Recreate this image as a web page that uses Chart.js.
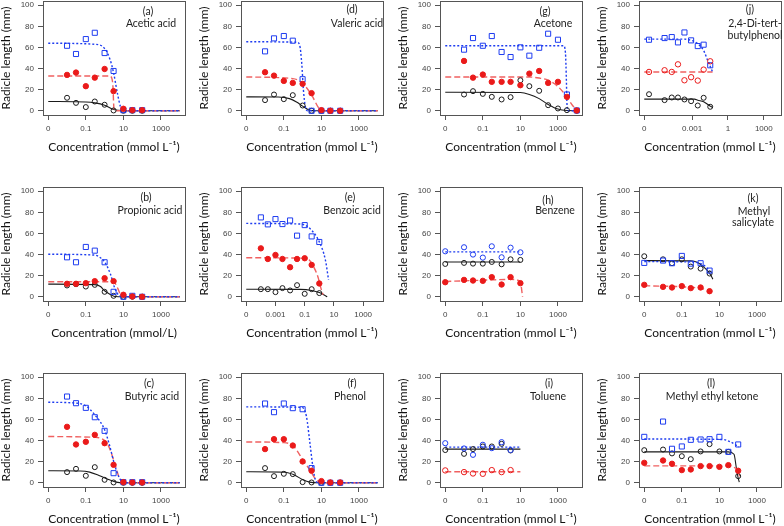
<!DOCTYPE html>
<html>
<head>
<meta charset="utf-8">
<script src="https://cdn.jsdelivr.net/npm/chart.js@4/dist/chart.umd.min.js"></script>
<style>
html, body { margin: 0; padding: 0; background: #fff; }
body { width: 784px; height: 526px; position: relative; overflow: hidden; }
canvas { position: absolute; }
</style>
</head>
<body>
<script>
// (a) Acetic acid
const aConc = [0.01, 0.03, 0.1, 0.3, 1, 3, 10, 30, 100];
const aBlue = [61.6, 53.8, 67.9, 73.9, 54.7, 37.7, 0.6, 0.6, 0.6];
const aRed = [34, 36.2, 23.3, 31.4, 39.6, 18.6, 1.9, 0.6, 0.6];
const aBlack = [12.3, 7.5, 3.5, 8.8, 5.7, 0.3, 0, 0, 0];
const aBlueFit = [[0.001, 64], [0.3, 63], [1, 59], [2, 48], [3, 36], [5, 15], [7, 4], [10, 0.5], [15, 0], [10000, 0]];
const aRedFit = [[0.001, 33], [1.8, 33], [2.4, 31], [2.8, 22], [3, 8], [3.2, 0.5], [4, 0], [10000, 0]];
const aBlackFit = [[0.001, 8.8], [0.1, 8.3], [0.3, 7.5], [1, 5.3], [3, 1.3], [10, 0.1], [30, 0], [10000, 0]];

// (d) Valeric acid
const dConc = [0.01, 0.03, 0.1, 0.3, 1, 3, 10, 30, 100];
const dBlue = [56.3, 68.6, 70.8, 66.4, 29.9, 0, 0, 0, 0];
const dRed = [36.5, 33.3, 28.3, 26.4, 25.5, 16.7, 0.6, 0, 0];
const dBlack = [10.1, 15.4, 11, 14.8, 5, 0, 0, 0, 0];
const dBlueFit = [[0.001, 65.4], [0.5, 65], [0.7, 62], [0.9, 45], [1.1, 20], [1.4, 4], [1.8, 0], [10000, 0]];
const dRedFit = [[0.001, 32], [0.3, 30.5], [1, 26], [3, 15], [7, 3], [10, 0.5], [15, 0], [10000, 0]];
const dBlackFit = [[0.001, 13.2], [0.05, 13], [0.2, 11.5], [0.5, 8], [1, 4.4], [2.2, 0.8], [5, 0], [10000, 0]];

// (g) Acetone
const gConc = [0.01, 0.03, 0.1, 0.3, 1, 3, 10, 30, 100, 300, 1000, 3000, 10000];
const gBlue = [57.9, 68.9, 61.6, 70.8, 55.7, 50.9, 60.1, 52.2, 59.7, 73, 67.3, 15.4, 0.3];
const gRed = [47.2, 31.4, 34.3, 27.4, 27.4, 27.4, 24.2, 35.2, 37.7, 26.4, 27.4, 13.2, 0.3];
const gBlack = [15.4, 18.6, 16, 13.2, 10.7, 12.9, 28.9, 23.3, 18.9, 5.3, 2.2, 0.6, 0];
const gBlueFit = [[0.001, 61.6], [2000, 61.6], [2500, 55], [2800, 30], [3000, 8], [3300, 0], [10000, 0]];
const gRedFit = [[0.001, 32], [30, 32], [100, 31], [300, 29], [1000, 23], [3000, 13], [6000, 5], [10000, 0.6]];
const gBlackFit = [[0.001, 17.6], [10, 17.3], [30, 15.5], [100, 11.5], [300, 6], [1000, 1.6], [3000, 0.2], [10000, 0]];

// (j) 2,4-Di-tert-butylphenol
const jConc = [2.5e-7, 5e-6, 2e-5, 6.6e-5, 2.3e-4, 8.3e-4, 3e-3, 9.3e-3, 0.033];
const jBlue = [67.3, 68.9, 69.8, 64.8, 74.2, 66.7, 61.3, 62.6, 43.1];
const jRed = [36.8, 38.4, 36.8, 44, 28.9, 31.8, 28.6, 39, 46.9];
const jBlack = [15.7, 10.1, 12.6, 12.6, 10.7, 9.1, 5, 12.3, 3.8];
const jBlueFit = [[1e-7, 67.9], [2.3e-4, 67.9], [8.3e-4, 66.7], [3e-3, 63.5], [9.3e-3, 57], [0.02, 47.8], [0.052, 36.8]];
const jRedFit = [[1e-7, 36.8], [0.052, 36.8]];
const jBlackFit = [[1e-7, 11], [1.6e-3, 11], [3e-3, 10], [9.3e-3, 8.5], [0.033, 4.4], [0.052, 3.2]];

// (b) Propionic acid
const bConc = [0.01, 0.03, 0.1, 0.3, 1, 3, 10, 30, 100];
const bBlue = [37.4, 32.7, 47.2, 43.7, 32.7, 4.7, 0, 0.9, 0];
const bRed = [12.3, 12.3, 12.9, 14.8, 17.6, 14.8, 1.9, 0.3, 0];
const bBlack = [10.7, 11.9, 9.7, 11.3, 4.7, 0.9, 0, 0, 0];
const bBlueFit = [[0.001, 40.3], [0.3, 39.5], [0.6, 37], [1, 33], [2, 22], [3.5, 8], [6, 1], [10, 0], [10000, 0]];
const bRedFit = [[0.001, 14.2], [2, 14.2], [3.5, 13], [5, 8], [7, 2], [10, 0], [10000, 0]];
const bBlackFit = [[0.001, 12], [0.3, 11.5], [0.6, 9.7], [1, 5.7], [2, 2.2], [3.5, 0.3], [10, 0], [10000, 0]];

// (e) Benzoic acid
const eConc = [1e-4, 3e-4, 1e-3, 3e-3, 0.01, 0.03, 0.1, 0.3, 1];
const eBlue = [75.2, 68.6, 73.6, 68.9, 72.3, 57.9, 67.9, 57.2, 51.9];
const eRed = [45.9, 35.8, 39.6, 35.8, 28, 35.8, 36.5, 30.2, 12.6];
const eBlack = [7.2, 7.2, 4.4, 8.2, 6, 11, 2.8, 7.2, 3.5];
const eBlueFit = [[1e-5, 69.5], [0.03, 69], [0.1, 68], [0.3, 63], [1, 52], [2.6, 35], [4.3, 16]];
const eRedFit = [[1e-5, 37], [0.1, 36.5], [0.2, 35], [0.4, 28.6], [0.8, 19], [1.3, 8], [1.8, 2]];
const eBlackFit = [[1e-5, 7.2], [0.05, 7], [0.3, 6], [1, 4], [2.6, 1], [3.5, 0]];

// (h) Benzene
const hConc = [0.001, 0.01, 0.03, 0.1, 0.3, 1, 3, 10];
const hBlue = [43.1, 46.9, 40, 37.1, 47.8, 37.4, 46.5, 42.1];
const hRed = [13.8, 16, 15.4, 15.1, 18.6, 11.6, 18.6, 12.9];
const hBlack = [31.1, 32.1, 31.4, 31.4, 33, 30.8, 35.5, 34.9];
const hBlueFit = [[0.001, 42.5], [10, 42.5]];
const hRedFit = [[0.001, 14.5], [0.3, 16], [3, 16.5], [9, 15], [11, 10], [13, 0]];
const hBlackFit = [[0.001, 33], [10, 33]];

// (k) Methyl salicylate
const kConc = [0.001, 0.01, 0.03, 0.1, 0.3, 1, 3];
const kBlue = [32.1, 34.3, 31.8, 38.7, 31.4, 31.8, 24.8];
const kRed = [11.3, 9.4, 8.8, 10.1, 8.2, 8.8, 5.3];
const kBlack = [38.4, 35.5, 31.8, 35.5, 28.6, 26.7, 22];
const kBlueFit = [[0.001, 33.3], [0.3, 33], [1, 31.5], [2, 28], [4, 22]];
const kRedFit = [[0.001, 10.5], [0.3, 9], [1, 8], [3, 6]];
const kBlackFit = [[0.001, 34.3], [0.3, 34], [0.65, 32.7], [1.4, 28.6], [3, 22.3], [4.5, 16.7]];

// (c) Butyric acid
const cConc = [0.01, 0.03, 0.1, 0.3, 1, 3, 10, 30, 100];
const cBlue = [81.7, 75.4, 71, 62.1, 49.2, 9.1, 0.6, 0.6, 0.6];
const cRed = [53, 36.3, 38.8, 45.4, 37.5, 17, 0.6, 0.3, 0.3];
const cBlack = [10.1, 13.2, 6.6, 14.8, 2.8, 0.3, 0, 0, 0];
const cBlueFit = [[0.001, 76.3], [0.03, 75.5], [0.1, 72.9], [0.3, 64.4], [1, 50.2], [1.8, 36], [3.4, 17], [6.2, 4.4], [11, 0.3], [20, 0], [10000, 0]];
const cRedFit = [[0.001, 43.8], [0.3, 43], [1, 40], [1.8, 33], [3.4, 18.6], [6.2, 4.4], [11, 0.5], [20, 0], [10000, 0]];
const cBlackFit = [[0.001, 11.4], [0.05, 11.2], [0.16, 10.1], [0.5, 6.9], [1.8, 2.8], [4.2, 0.6], [10, 0], [10000, 0]];

// (f) Phenol
const fConc = [0.01, 0.03, 0.1, 0.3, 1, 3, 10, 30, 100];
const fBlue = [75.1, 66.9, 75.1, 70.7, 69.7, 13.9, 0, 0, 0];
const fRed = [31.9, 41.3, 41.3, 35.3, 20.2, 11.4, 1.6, 0.3, 0.3];
const fBlack = [13.9, 6.3, 8.5, 8.2, 0.6, 0.3, 0, 0, 0];
const fBlueFit = [[0.001, 71.9], [0.9, 71.5], [1.6, 62.8], [2.4, 39], [3.6, 13.9], [4.8, 2.8], [6.7, 0], [10000, 0]];
const fRedFit = [[0.001, 38.7], [0.1, 38], [0.34, 34.4], [1, 22], [2.4, 12.3], [4.5, 4.4], [8.2, 0.6], [15, 0], [10000, 0]];
const fBlackFit = [[0.001, 10.4], [0.12, 10], [0.34, 7.6], [1.06, 2.8], [2.4, 0.6], [6, 0], [10000, 0]];

// (i) Toluene
const iConc = [0.001, 0.01, 0.03, 0.1, 0.3, 1, 3];
const iBlue = [37.5, 32.5, 26.5, 36, 32.8, 38.5, 31];
const iRed = [11.7, 10.1, 8.8, 8.5, 12, 10.1, 12];
const iBlack = [31, 27.4, 31.9, 34.4, 34.4, 36.9, 30.6];
const iBlueFit = [[0.001, 33.8], [10, 33.8]];
const iRedFit = [[0.001, 10.4], [10, 10.4]];
const iBlackFit = [[0.001, 31.9], [10, 31.9]];

// (l) Methyl ethyl ketone
const lConc = [0.001, 0.01, 0.03, 0.1, 0.3, 1, 3, 10, 30, 100];
const lBlue = [43.5, 58, 32.2, 34.4, 40.7, 41, 41.3, 43.5, 29.3, 36.3];
const lRed = [18.9, 21.1, 18, 12, 12.6, 15.8, 15.8, 15.1, 16.7, 11.4];
const lBlack = [30.9, 31.5, 27.8, 25.2, 22.4, 29.7, 36.6, 29.7, 29.3, 6.3];
const lBlueFit = [[0.001, 41.5], [16, 41], [36, 39], [110, 34]];
const lRedFit = [[0.001, 16], [30, 16], [60, 14.5], [100, 11.4], [120, 6]];
const lBlackFit = [[0.001, 29.3], [30, 29.3], [60, 27], [80, 14], [100, 4.4], [115, 0.6]];

// x axis variants (tick values and their printed labels)
const stdTicks = [0.001, 0.1, 10, 1000];
const stdLabels = ['0', '0.1', '10', '1000'];
const eTicks = [1e-5, 0.001, 0.1, 10, 1000];
const eLabels = ['0', '0.001', '0.1', '10', '1000'];
const jTicks = [1e-7, 0.001, 1, 1000];
const jLabels = ['0', '0.001', '1', '1000'];
const yTicks = [0, 20, 40, 60, 80, 100];

const AX_STD = { min: 5.25e-4, max: 19055, ticks: stdTicks, labels: stdLabels };
const AX_E = { min: 4.37e-6, max: 22909, ticks: eTicks, labels: eLabels };
const AX_J = { min: 3.63e-8, max: 27542, ticks: jTicks, labels: jLabels };

const XT = 'Concentration (mmol L\u207B\u00B9)';

const panels = [
  { col: 0, row: 0, ax: AX_STD, conc: aConc, blue: aBlue, red: aRed, black: aBlack, bf: aBlueFit, rf: aRedFit, kf: aBlackFit,
    notes: [['(a)', 105, 11], ['Acetic acid', 108, 23]] },
  { col: 1, row: 0, ax: AX_STD, conc: dConc, blue: dBlue, red: dRed, black: dBlack, bf: dBlueFit, rf: dRedFit, kf: dBlackFit,
    notes: [['(d)', 111, 9], ['Valeric acid', 116, 23]] },
  { col: 2, row: 0, ax: AX_STD, conc: gConc, blue: gBlue, red: gRed, black: gBlack, bf: gBlueFit, rf: gRedFit, kf: gBlackFit,
    notes: [['(g)', 105, 11], ['Acetone', 113, 23]] },
  { col: 3, row: 0, ax: AX_J, conc: jConc, blue: jBlue, red: jRed, black: jBlack, bf: jBlueFit, rf: jRedFit, kf: jBlackFit,
    redOpen: true, notes: [['(j)', 111, 9], ['2,4-Di-tert-', 116, 23], ['butylphenol', 116, 35]] },
  { col: 0, row: 1, ax: AX_STD, conc: bConc, blue: bBlue, red: bRed, black: bBlack, bf: bBlueFit, rf: bRedFit, kf: bBlackFit,
    xTitle: 'Concentration (mmol/L)', notes: [['(b)', 103, 11], ['Propionic acid', 107, 24]] },
  { col: 1, row: 1, ax: AX_E, conc: eConc, blue: eBlue, red: eRed, black: eBlack, bf: eBlueFit, rf: eRedFit, kf: eBlackFit,
    notes: [['(e)', 109, 11], ['Benzoic acid', 111, 24]] },
  { col: 2, row: 1, ax: AX_STD, conc: hConc, blue: hBlue, red: hRed, black: hBlack, bf: hBlueFit, rf: hRedFit, kf: hBlackFit,
    blueCircle: true, notes: [['(h)', 108, 14], ['Benzene', 115, 24]] },
  { col: 3, row: 1, ax: AX_STD, conc: kConc, blue: kBlue, red: kRed, black: kBlack, bf: kBlueFit, rf: kRedFit, kf: kBlackFit,
    notes: [['(k)', 114, 12], ['Methyl', 115, 25], ['salicylate', 114, 36]] },
  { col: 0, row: 2, ax: AX_STD, conc: cConc, blue: cBlue, red: cRed, black: cBlack, bf: cBlueFit, rf: cRedFit, kf: cBlackFit,
    notes: [['(c)', 106, 11], ['Butyric acid', 109, 24]] },
  { col: 1, row: 2, ax: AX_STD, conc: fConc, blue: fBlue, red: fRed, black: fBlack, bf: fBlueFit, rf: fRedFit, kf: fBlackFit,
    notes: [['(f)', 111, 11], ['Phenol', 109, 24]] },
  { col: 2, row: 2, ax: AX_STD, conc: iConc, blue: iBlue, red: iRed, black: iBlack, bf: iBlueFit, rf: iRedFit, kf: iBlackFit,
    blueCircle: true, redOpen: true, notes: [['(i)', 109, 11], ['Toluene', 108, 24]] },
  { col: 3, row: 2, ax: AX_STD, conc: lConc, blue: lBlue, red: lRed, black: lBlack, bf: lBlueFit, rf: lRedFit, kf: lBlackFit,
    notes: [['(l)', 72, 11], ['Methyl ethyl ketone', 73, 24]] }
];

const COL_X = [43, 241, 440, 639];
const ROW_Y = [1, 187, 373];
const BOX_W = 142, BOX_H = 114;
const YW = 44, XH = 44, TP = 10, RP = 6;

const BLUE = '#1e3cf0';
const RED = '#ea1a1a';
const RED_LINE = '#f06060';
const BLACK = '#1a1a1a';

const framePlugin = {
  id: 'frame',
  afterDraw(chart, args, opts) {
    const { ctx, chartArea: a } = chart;
    ctx.save();
    ctx.strokeStyle = '#555';
    ctx.lineWidth = 1;
    ctx.strokeRect(Math.round(a.left) + 0.5, Math.round(a.top) + 0.5,
      Math.round(a.right - a.left), Math.round(a.bottom - a.top));
    ctx.fillStyle = '#222';
    ctx.font = '10.5px Lato';
    ctx.textAlign = 'center';
    ctx.textBaseline = 'middle';
    (opts.notes || []).forEach(n => ctx.fillText(n[0], a.left + n[1], a.top + n[2]));
    ctx.restore();
  }
};

function pts(xs, ys) { return xs.map((x, i) => ({ x: x, y: ys[i] })); }
function curve(p) { return p.map(q => ({ x: q[0], y: q[1] })); }

const tickFont = { family: 'Liberation Sans', size: 8 };
const titleFont = { family: 'Lato', size: 12 };

panels.forEach(p => {
  const cv = document.createElement('canvas');
  cv.width = YW + BOX_W + RP;
  cv.height = TP + BOX_H + XH;
  cv.style.left = (COL_X[p.col] - YW) + 'px';
  cv.style.top = (ROW_Y[p.row] - TP) + 'px';
  document.body.appendChild(cv);

  const ax = p.ax;
  new Chart(cv.getContext('2d'), {
    type: 'scatter',
    data: {
      datasets: [
        { data: pts(p.conc, p.red), pointStyle: 'circle', pointRadius: 2.7,
          backgroundColor: p.redOpen ? 'rgba(0,0,0,0)' : RED, borderColor: RED, borderWidth: 1 },
        { data: pts(p.conc, p.blue), pointStyle: p.blueCircle ? 'circle' : 'rect',
          pointRadius: p.blueCircle ? 2.6 : 3.6, backgroundColor: 'rgba(0,0,0,0)', borderColor: BLUE, borderWidth: 1 },
        { data: pts(p.conc, p.black), pointStyle: 'circle', pointRadius: 2.5,
          backgroundColor: 'rgba(0,0,0,0)', borderColor: BLACK, borderWidth: 1 },
        { data: curve(p.bf), showLine: true, pointRadius: 0, borderColor: BLUE, borderWidth: 1.4,
          borderDash: [2, 2], cubicInterpolationMode: 'monotone', fill: false },
        { data: curve(p.rf), showLine: true, pointRadius: 0, borderColor: RED_LINE, borderWidth: 1.4,
          borderDash: [6, 3], cubicInterpolationMode: 'monotone', fill: false },
        { data: curve(p.kf), showLine: true, pointRadius: 0, borderColor: BLACK, borderWidth: 1.1,
          cubicInterpolationMode: 'monotone', fill: false }
      ]
    },
    options: {
      responsive: false,
      animation: false,
      devicePixelRatio: 1,
      layout: { padding: { left: 0, top: TP, right: RP, bottom: 0 } },
      plugins: {
        legend: { display: false },
        tooltip: { enabled: false },
        frame: { notes: p.notes }
      },
      scales: {
        x: {
          type: 'logarithmic',
          min: ax.min,
          max: ax.max,
          afterBuildTicks: s => { s.ticks = ax.ticks.map(v => ({ value: v })); },
          afterFit: s => { s.height = XH; },
          border: { display: false },
          grid: { drawOnChartArea: false, drawTicks: true, tickLength: 5, tickColor: '#555' },
          ticks: { autoSkip: false, maxRotation: 0, padding: 4, color: '#444', font: tickFont,
            callback: (v, i) => ax.labels[i] },
          title: { display: true, text: p.xTitle || XT, color: '#111', font: titleFont,
            padding: { top: 0, bottom: 5 } }
        },
        y: {
          min: -4,
          max: 104,
          afterBuildTicks: s => { s.ticks = yTicks.map(v => ({ value: v })); },
          afterFit: s => { s.width = YW; },
          border: { display: false },
          grid: { drawOnChartArea: false, drawTicks: true, tickLength: 5, tickColor: '#555' },
          ticks: { autoSkip: false, padding: 4, color: '#444', font: tickFont },
          title: { display: true, text: 'Radicle length (mm)', color: '#111', font: titleFont,
            padding: { top: 0, bottom: 0 } }
        }
      }
    },
    plugins: [framePlugin]
  });
});
</script>
</body>
</html>
